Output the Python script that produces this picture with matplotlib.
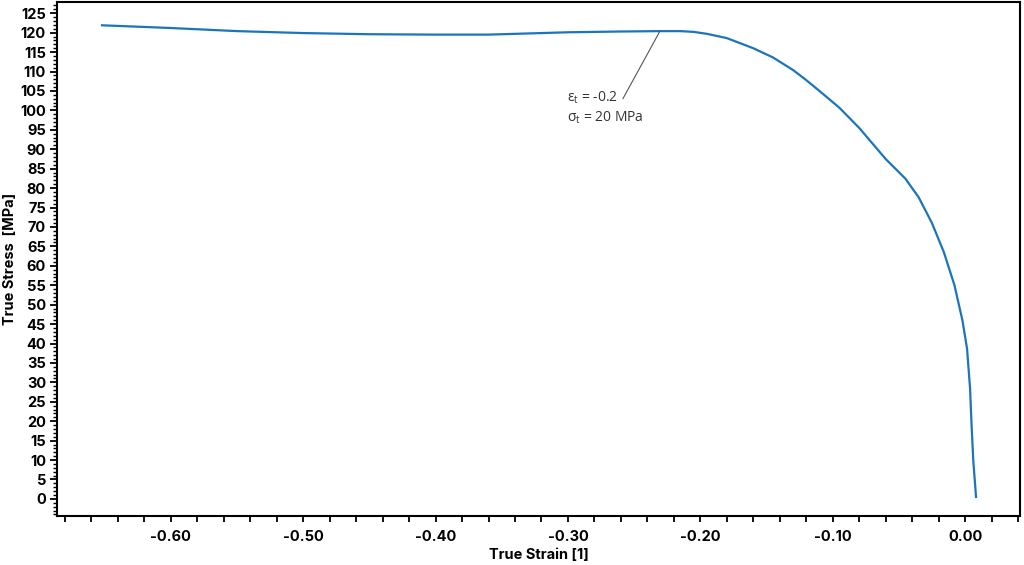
import matplotlib
matplotlib.use('Agg')
import matplotlib.pyplot as plt
from matplotlib.ticker import MultipleLocator, FixedLocator

plt.rcParams['font.family'] = ['Inter', 'DejaVu Sans']

# curve (true strain [1], true stress [MPa])
strain = [-0.652, -0.60, -0.55, -0.50, -0.45, -0.40, -0.36, -0.33, -0.30, -0.26,
          -0.23, -0.215, -0.205, -0.195, -0.18, -0.16, -0.145, -0.13, -0.12, -0.11,
          -0.095, -0.08, -0.07, -0.06, -0.045, -0.035, -0.025, -0.016, -0.008,
          -0.002, 0.0015, 0.0038, 0.0048, 0.0062, 0.0083]
stress = [121.9, 121.2, 120.4, 119.9, 119.6, 119.5, 119.5, 119.8, 120.1, 120.3,
          120.4, 120.4, 120.2, 119.7, 118.6, 116.0, 113.6, 110.4, 107.8, 105.0,
          100.7, 95.5, 91.5, 87.5, 82.4, 77.6, 71.0, 63.5, 55.0,
          46.0, 38.7, 28.4, 20.0, 10.0, 0.5]

x_labels = [-0.60, -0.50, -0.40, -0.30, -0.20, -0.10, 0.00]
note_point = (-0.2305, 120.4)
note_text = '$\\mathregular{\u03b5_t}$ = -0.2\n$\\mathregular{\u03c3_t}$ = 20 MPa'

fig = plt.figure(figsize=(10.24, 5.65), dpi=100)
ax = fig.add_axes([0.0557, 0.0867, 0.9405, 0.9098])

ax.plot(strain, stress, color='#1a75bc', lw=1.6)

ax.annotate('', xy=note_point, xytext=(-0.2585, 103.0),
            arrowprops=dict(arrowstyle='-', color='#555555', lw=0.8, shrinkA=0, shrinkB=0))
ax.text(-0.3008, 105.3, note_text, family=['Open Sans', 'DejaVu Sans'], fontsize=10,
        color='#333333', va='top', ha='left', linespacing=1.25)

ax.set_xlim(-0.686, 0.0416)
ax.set_ylim(-4.4, 127.9)

ax.xaxis.set_major_locator(FixedLocator(x_labels))
ax.xaxis.set_major_formatter(plt.FuncFormatter(lambda v, p: '%.2f' % v if abs(v) > 1e-9 else '0.00'))
ax.xaxis.set_minor_locator(MultipleLocator(0.02))
ax.yaxis.set_major_locator(MultipleLocator(5))
ax.yaxis.set_minor_locator(MultipleLocator(1))
ax.set_yticks(range(0, 126, 5))

ax.tick_params(axis='x', which='both', direction='out', length=4, width=1.3, pad=6,
               labelsize=10.5)
ax.tick_params(axis='y', which='major', direction='out', length=5, width=1.3, pad=3,
               labelsize=10.5)
ax.tick_params(axis='y', which='minor', direction='out', length=3, width=1.0)
for lab in ax.get_xticklabels() + ax.get_yticklabels():
    lab.set_fontweight('bold')

for s in ax.spines.values():
    s.set_linewidth(1.5)

ax.set_xlabel('True Strain [1]', fontsize=10.5, fontweight='bold', labelpad=3)
ax.set_ylabel('True Stress  [MPa]', fontsize=10.5, fontweight='bold', labelpad=2)

plt.savefig('out.png', dpi=100)
plt.close()
